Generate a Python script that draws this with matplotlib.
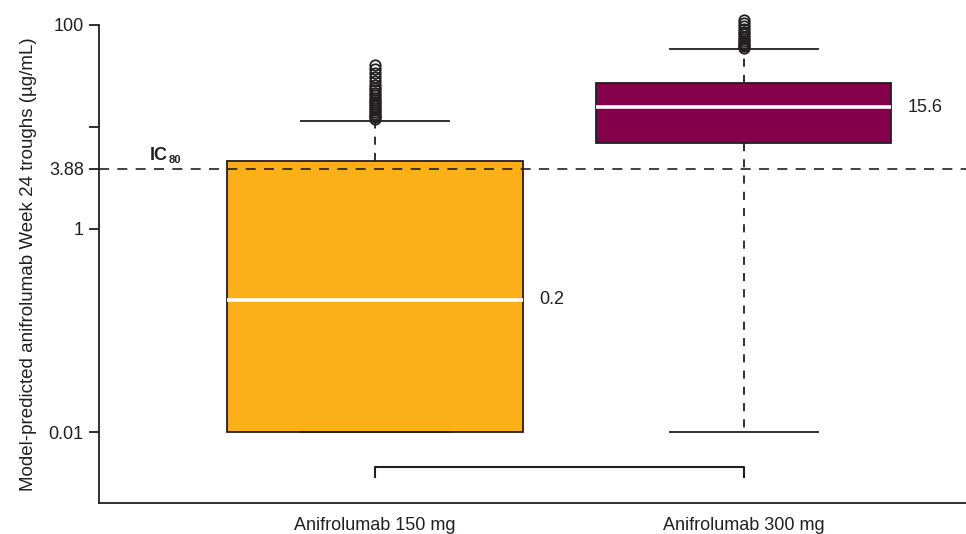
import matplotlib
matplotlib.use("Agg")
import matplotlib.pyplot as plt
from matplotlib.ticker import NullLocator

plt.rcParams['font.family'] = ['Liberation Sans', 'DejaVu Sans']

# Week 24 trough summaries (µg/mL)
groups = ["Anifrolumab 150 mg", "Anifrolumab 300 mg"]
medians = [0.2, 15.6]
q1 = [0.01, 7.0]
q3 = [4.6, 27.0]
whisker_low = [0.01, 0.01]
whisker_high = [11.5, 58.0]
outliers_150 = [12.0, 12.4, 12.9, 13.4, 14.0, 14.6, 15.2, 15.9, 16.6, 17.4,
                18.3, 19.2, 20.3, 21.5, 22.8, 24.3, 26.0, 28.0, 30.5, 33.5,
                37.0, 40.5]
outliers_300 = [60, 62, 64, 67, 70, 73, 77, 81, 86, 92, 98, 105, 112]
box_colors = ["#FBB01A", "#85004B"]

ic80 = 3.88
ytick_values = [0.01, 1, 3.88, 10, 100]
ytick_labels = ["0.01", "1", "3.88", "", "100"]
bracket_x = [1, 1, 2, 2]
bracket_y = [0.00362, 0.00454, 0.00454, 0.00362]

ink = "#231f20"

fig = plt.figure(figsize=(9.66, 5.34), dpi=100)
ax = fig.add_axes([99 / 966, 31 / 534, 867 / 966, 478 / 534])

stats = []
for i, fl in enumerate([outliers_150, outliers_300]):
    stats.append(dict(med=medians[i], q1=q1[i], q3=q3[i],
                      whislo=whisker_low[i], whishi=whisker_high[i],
                      fliers=fl, label=groups[i]))

bp = ax.bxp(stats, positions=[1, 2], widths=0.8, patch_artist=True,
            showfliers=True,
            boxprops=dict(edgecolor=ink, linewidth=1.3),
            medianprops=dict(color="white", linewidth=2.6, solid_capstyle="butt"),
            whiskerprops=dict(color=ink, linewidth=1.3, linestyle=(0, (4.5, 4.5))),
            capprops=dict(color=ink, linewidth=1.3),
            capwidths=0.4,
            flierprops=dict(marker="o", markersize=7.5, markerfacecolor="none",
                            markeredgecolor=ink, markeredgewidth=1.3))
for patch, c in zip(bp["boxes"], box_colors):
    patch.set_facecolor(c)
    patch.set_zorder(2)
for fl in bp["fliers"]:
    fl.set_clip_on(False)
for art in bp["medians"] + bp["caps"] + bp["whiskers"]:
    art.set_zorder(3)

# IC80 reference line
ax.axhline(ic80, color=ink, linewidth=1.2, linestyle=(0, (6, 5)), zorder=4)
ax.text(0.390, 4.35, "IC", fontsize=13, fontweight="bold", color=ink,
        ha="left", va="bottom")
ax.text(0.440, 4.2, "80", fontsize=8, fontweight="bold", color=ink,
        ha="left", va="bottom")

# median annotations
ax.text(1.445, medians[0], "0.2", fontsize=13, color=ink, ha="left", va="center")
ax.text(2.445, medians[1], "15.6", fontsize=13, color=ink, ha="left", va="center")

# comparison bracket
ax.plot(bracket_x, bracket_y, color=ink, linewidth=1.5, clip_on=False)

ax.set_yscale("log")
ax.set_ylim(0.00201, 100)
ax.set_xlim(0.252, 2.602)
ax.set_yticks(ytick_values)
ax.set_yticklabels(ytick_labels)
ax.yaxis.set_minor_locator(NullLocator())
ax.set_xticks([1, 2])
ax.set_xticklabels(groups)
ax.tick_params(axis="x", length=0, labelsize=13, pad=10, colors=ink)
ax.tick_params(axis="y", length=7, width=1.3, labelsize=13, pad=4, colors=ink)
ax.set_ylabel("Model-predicted anifrolumab Week 24 troughs (µg/mL)",
              fontsize=13.5, color=ink, labelpad=8)

for side in ["top", "right"]:
    ax.spines[side].set_visible(False)
for side in ["left", "bottom"]:
    ax.spines[side].set_linewidth(1.3)
    ax.spines[side].set_color(ink)

fig.savefig("out.png", dpi=100)
